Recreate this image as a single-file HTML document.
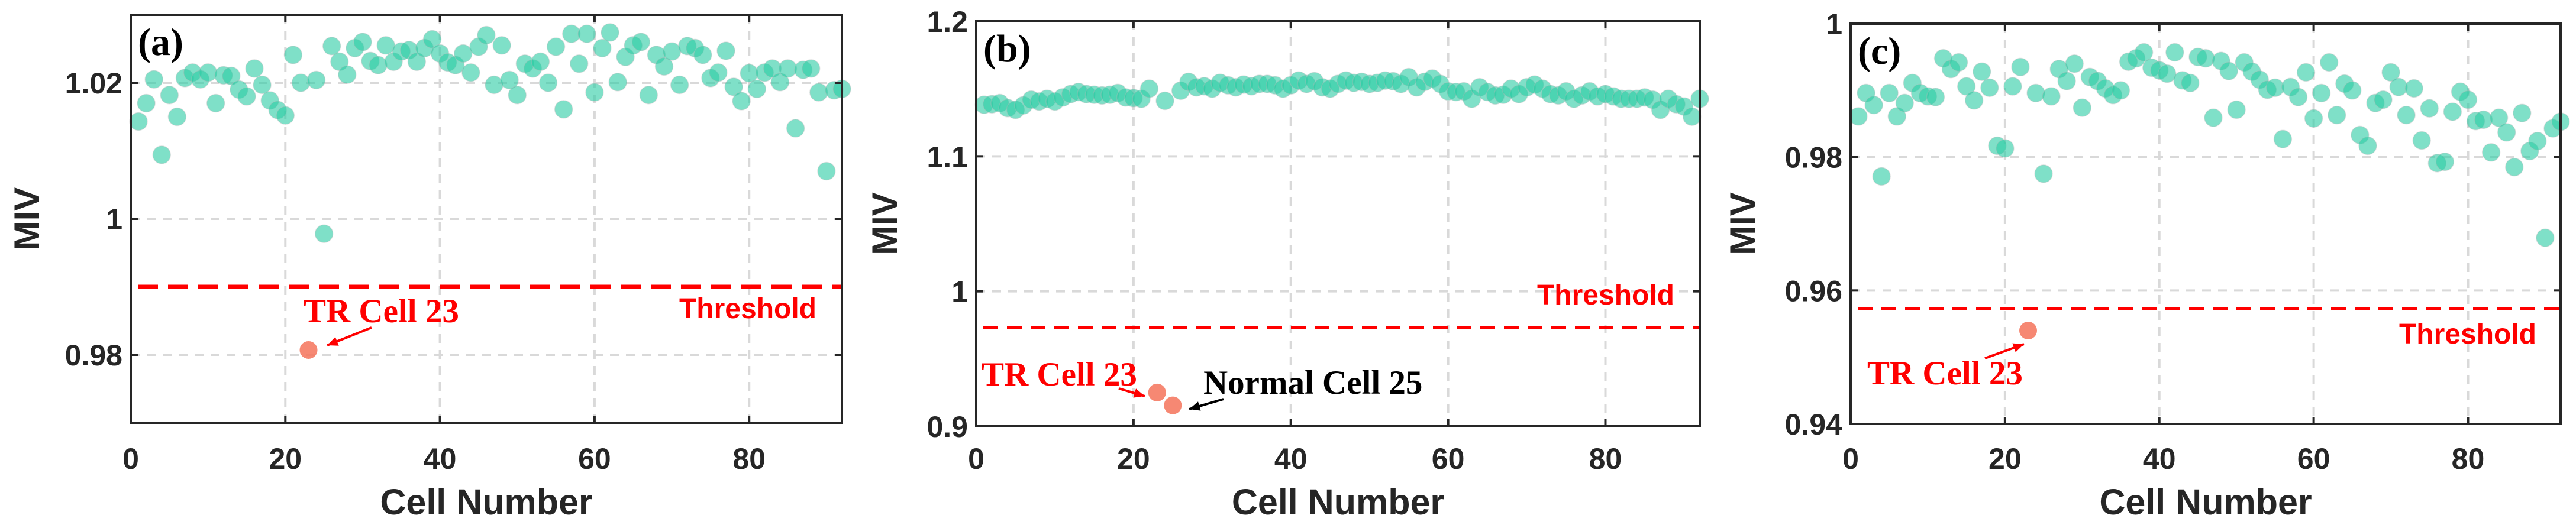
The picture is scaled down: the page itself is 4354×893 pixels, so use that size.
<!DOCTYPE html>
<html><head><meta charset="utf-8"><style>
html,body{margin:0;padding:0;background:#fff;}
svg{display:block;}
</style></head><body>
<svg id="chart" width="4354" height="893" viewBox="0 0 4354 893" xmlns="http://www.w3.org/2000/svg"></svg>
<script>
// ---- data ----
const cellsA = [1,2,3,4,5,6,7,8,9,10,11,12,13,14,15,16,17,18,19,20,21,22,24,25,26,27,28,29,30,31,32,33,34,35,36,37,38,39,40,41,42,43,44,45,46,47,48,49,50,51,52,53,54,55,56,57,58,59,60,61,62,63,64,65,66,67,68,69,70,71,72,73,74,75,76,77,78,79,80,81,82,83,84,85,86,87,88,89,90,91,92];
const mivA = [1.0143,1.017,1.0205,1.0094,1.0182,1.015,1.0207,1.0215,1.0205,1.0215,1.017,1.0211,1.021,1.019,1.018,1.0221,1.0197,1.0174,1.016,1.0152,1.0241,1.02,1.0204,0.9978,1.0254,1.0231,1.0212,1.0251,1.026,1.0232,1.0226,1.0255,1.0231,1.0246,1.0248,1.0231,1.0251,1.0264,1.0243,1.023,1.0226,1.0243,1.0215,1.0253,1.027,1.0197,1.0255,1.0204,1.0182,1.0228,1.0221,1.0231,1.02,1.0253,1.0161,1.0272,1.0228,1.0272,1.0186,1.0251,1.0274,1.0201,1.0238,1.0255,1.026,1.0182,1.0241,1.0224,1.0246,1.0197,1.0254,1.0251,1.0241,1.0207,1.0215,1.0247,1.0194,1.0173,1.0214,1.0191,1.0215,1.0221,1.0201,1.0221,1.0133,1.0219,1.0221,1.0186,1.007,1.0189,1.0191];
const faultCellsA = [23];
const faultMivA = [0.9807];
const thresholdA = 0.99;
const yTicksA = [0.98,1,1.02];
const yTickLabelsA = ["0.98","1","1.02"];

const cellsB = [1,2,3,4,5,6,7,8,9,10,11,12,13,14,15,16,17,18,19,20,21,22,24,26,27,28,29,30,31,32,33,34,35,36,37,38,39,40,41,42,43,44,45,46,47,48,49,50,51,52,53,54,55,56,57,58,59,60,61,62,63,64,65,66,67,68,69,70,71,72,73,74,75,76,77,78,79,80,81,82,83,84,85,86,87,88,89,90,91,92];
const mivB = [1.1382,1.1386,1.1394,1.1357,1.1344,1.1377,1.1419,1.1406,1.1426,1.1406,1.1436,1.1461,1.1476,1.1461,1.1456,1.1451,1.1456,1.1469,1.1436,1.1431,1.1426,1.1501,1.1411,1.1486,1.1551,1.1511,1.1519,1.1501,1.1544,1.1526,1.1511,1.1531,1.1519,1.1536,1.1536,1.1526,1.1501,1.1526,1.1561,1.1536,1.1556,1.1511,1.1501,1.1536,1.1561,1.1544,1.1551,1.1536,1.1544,1.1561,1.1556,1.1536,1.1586,1.1511,1.1551,1.1576,1.1536,1.1481,1.1476,1.1481,1.1426,1.1511,1.1476,1.1451,1.1456,1.1501,1.1461,1.1511,1.1531,1.1501,1.1461,1.1451,1.1481,1.1426,1.1451,1.1481,1.1444,1.1461,1.1444,1.1426,1.1426,1.1426,1.1436,1.1419,1.1344,1.1426,1.1386,1.1369,1.1294,1.1426];
const faultCellsB = [23,25];
const faultMivB = [0.925,0.9155];
const thresholdB = 0.973;
const yTicksB = [0.9,1,1.1,1.2];
const yTickLabelsB = ["0.9","1","1.1","1.2"];

const cellsC = [1,2,3,4,5,6,7,8,9,10,11,12,13,14,15,16,17,18,19,20,21,22,24,25,26,27,28,29,30,31,32,33,34,35,36,37,38,39,40,41,42,43,44,45,46,47,48,49,50,51,52,53,54,55,56,57,58,59,60,61,62,63,64,65,66,67,68,69,70,71,72,73,74,75,76,77,78,79,80,81,82,83,84,85,86,87,88,89,90,91,92];
const mivC = [0.9861,0.9896,0.9878,0.9771,0.9896,0.9861,0.9881,0.9911,0.9896,0.9891,0.989,0.9948,0.9932,0.9942,0.9906,0.9885,0.9928,0.9904,0.9817,0.9813,0.9906,0.9935,0.9896,0.9775,0.9891,0.9932,0.9914,0.994,0.9874,0.992,0.9914,0.9903,0.9893,0.99,0.9943,0.9948,0.9957,0.9934,0.993,0.9925,0.9957,0.9915,0.9911,0.995,0.9948,0.9859,0.9944,0.9929,0.9871,0.9942,0.9928,0.9916,0.9901,0.9904,0.9827,0.9905,0.989,0.9927,0.9858,0.9896,0.9942,0.9863,0.991,0.99,0.9833,0.9817,0.9881,0.9886,0.9927,0.9905,0.9863,0.9903,0.9825,0.9873,0.9791,0.9793,0.9868,0.9898,0.9886,0.9854,0.9856,0.9807,0.9859,0.9837,0.9785,0.9866,0.9809,0.9824,0.9679,0.9843,0.9853];
const faultCellsC = [23];
const faultMivC = [0.954];
const thresholdC = 0.9573;
const yTicksC = [0.94,0.96,0.98,1];
const yTickLabelsC = ["0.94","0.96","0.98","1"];

const xTicks = [0,20,40,60,80];
const xTickLabels = ["0","20","40","60","80"];

// ---- drawing ----
const NS = "http://www.w3.org/2000/svg";
const svg = document.getElementById('chart');
function mk(tag, attrs, parent){
  const e = document.createElementNS(NS, tag);
  for (const k in attrs) e.setAttribute(k, attrs[k]);
  (parent||svg).appendChild(e);
  return e;
}

function panel(cfg){
  const g = mk('g', {});
  
  
  const L=cfg.left, R=cfg.right, T=cfg.top, B=cfg.bottom;
  const xs = v => L + (v - 0) / (92 - 0) * (R - L);
  const ys = v => B - (v - cfg.ymin) / (cfg.ymax - cfg.ymin) * (B - T);

  // grid
  xTicks.forEach((t,i) => {
    if (t === 0) return;
    const l = mk('line', {x1:xs(t), x2:xs(t), y1:T, y2:B, stroke:'#d9d9d9', 'stroke-width':4, 'stroke-dasharray':'15 12'}, g);
    
    
  });
  cfg.yTicks.forEach(t => {
    if (Math.abs(ys(t)-T) < 3 || Math.abs(ys(t)-B) < 3) return;
    const l = mk('line', {x1:L, x2:R, y1:ys(t), y2:ys(t), stroke:'#d9d9d9', 'stroke-width':4, 'stroke-dasharray':'15 12'}, g);
    
    
  });

  // threshold
  const th = mk('line', {x1:L+12, x2:R, y1:ys(cfg.threshold), y2:ys(cfg.threshold), stroke:'#ff0000', 'stroke-width':cfg.thW, 'stroke-dasharray':cfg.thDash}, g);
  
  

  // points
  cfg.cells.forEach((c,i) => {
    const p = mk('circle', {cx:xs(c), cy:ys(cfg.miv[i]), r:15, fill:'#2acba3', 'fill-opacity':0.6, stroke:'#bbbbbb', 'stroke-opacity':0.35, 'stroke-width':1.5}, g);
    
    
  });
  cfg.faultCells.forEach((c,i) => {
    const p = mk('circle', {cx:xs(c), cy:ys(cfg.faultMiv[i]), r:15, fill:'#f5735a', 'fill-opacity':0.85}, g);
    
    
  });

  // box
  const box = mk('rect', {x:L, y:T, width:R-L, height:B-T, fill:'none', stroke:'#262626', 'stroke-width':4}, g);
  
  

  // ticks + labels
  xTicks.forEach((t,i) => {
    mk('line', {x1:xs(t), x2:xs(t), y1:B, y2:B-12, stroke:'#262626', 'stroke-width':4}, g);
    mk('line', {x1:xs(t), x2:xs(t), y1:T, y2:T+12, stroke:'#262626', 'stroke-width':4}, g);
    const tx = mk('text', {x:xs(t), y:793, 'text-anchor':'middle', 'font-family':'Liberation Sans, Arial, sans-serif', 'font-weight':'bold', 'font-size':50, fill:'#262626'}, g);
    tx.textContent = xTickLabels[i];
    
    
  });
  cfg.yTicks.forEach((t,i) => {
    mk('line', {x1:L, x2:L+12, y1:ys(t), y2:ys(t), stroke:'#262626', 'stroke-width':4}, g);
    mk('line', {x1:R, x2:R-12, y1:ys(t), y2:ys(t), stroke:'#262626', 'stroke-width':4}, g);
    const tx = mk('text', {x:L-14, y:ys(t)+18, 'text-anchor':'end', 'font-family':'Liberation Sans, Arial, sans-serif', 'font-weight':'bold', 'font-size':50, fill:'#262626'}, g);
    tx.textContent = cfg.yTickLabels[i];
    
    
  });

  // axis titles
  const xt = mk('text', {x:(L+R)/2, y:870, 'text-anchor':'middle', 'font-family':'Liberation Sans, Arial, sans-serif', 'font-weight':'bold', 'font-size':61, fill:'#262626'}, g);
  xt.textContent = 'Cell Number';
  
  
  const ytx = cfg.yTitleX, yty = (T+B)/2;
  const yt = mk('text', {x:ytx, y:yty, 'text-anchor':'middle', transform:'rotate(-90 '+ytx+' '+yty+')', 'font-family':'Liberation Sans, Arial, sans-serif', 'font-weight':'bold', 'font-size':60, fill:'#262626'}, g);
  yt.textContent = 'MIV';
  
  

  // panel letter
  const pl = mk('text', {x:L+12, y:T+68, 'font-family':'Liberation Serif, Times New Roman, serif', 'font-weight':'bold', 'font-size':66, fill:'#000'}, g);
  pl.textContent = cfg.letter;
  
  

  // threshold text
  const tt = mk('text', {x:cfg.thTextX, y:cfg.thTextY, 'text-anchor':'end', 'font-family':'Liberation Sans, Arial, sans-serif', 'font-weight':'bold', 'font-size':48, fill:'#ff0000'}, g);
  tt.textContent = 'Threshold';
  
  

  // annotations
  cfg.notes.forEach(n => {
    const t = mk('text', {x:n.x, y:n.y, 'font-family':'Liberation Serif, Times New Roman, serif', 'font-weight':'bold', 'font-size':n.fs, fill:n.color}, g);
    t.textContent = n.text;
    
    
    const a = n.arrow;
    const ln = mk('line', {x1:a[0], y1:a[1], x2:a[2], y2:a[3], stroke:n.color, 'stroke-width':4}, g);
    
    
    const ang = Math.atan2(a[3]-a[1], a[2]-a[0]);
    const hl = 18, hw = 8;
    const bx = a[2]-hl*Math.cos(ang), by = a[3]-hl*Math.sin(ang);
    const px = -Math.sin(ang)*hw, py = Math.cos(ang)*hw;
    const hd = mk('polygon', {points:a[2]+','+a[3]+' '+(bx+px)+','+(by+py)+' '+(bx-px)+','+(by-py), fill:n.color}, g);
    
    
  });
}

panel({name:'panel-a', letter:'(a)', left:221, right:1423, top:25, bottom:715, ymin:0.97, ymax:1.03,
  cells:cellsA, miv:mivA, faultCells:faultCellsA, faultMiv:faultMivA, threshold:thresholdA,
  yTicks:yTicksA, yTickLabels:yTickLabelsA, yTitleX:66, thW:7, thDash:'34 17',
  thTextX:1380, thTextY:538,
  notes:[{name:'tr-cell-23-note', text:'TR Cell 23', x:513, y:545, fs:57, color:'#ff0000', arrow:[628,554,553,584]}]});

panel({name:'panel-b', letter:'(b)', left:1650, right:2873, top:36, bottom:721, ymin:0.9, ymax:1.2,
  cells:cellsB, miv:mivB, faultCells:faultCellsB, faultMiv:faultMivB, threshold:thresholdB,
  yTicks:yTicksB, yTickLabels:yTickLabelsB, yTitleX:1516, thW:5, thDash:'25 15',
  thTextX:2830, thTextY:515,
  notes:[{name:'tr-cell-23-note', text:'TR Cell 23', x:1659, y:652, fs:57, color:'#ff0000', arrow:[1891,657,1935,670]},
         {name:'normal-cell-25-note', text:'Normal Cell 25', x:2034, y:666, fs:57, color:'#000000', arrow:[2068,675,2010,692]}]});

panel({name:'panel-c', letter:'(c)', left:3128, right:4328, top:40, bottom:717, ymin:0.94, ymax:1.0,
  cells:cellsC, miv:mivC, faultCells:faultCellsC, faultMiv:faultMivC, threshold:thresholdC,
  yTicks:yTicksC, yTickLabels:yTickLabelsC, yTitleX:2966, thW:5, thDash:'25 15',
  thTextX:4287, thTextY:581,
  notes:[{name:'tr-cell-23-note', text:'TR Cell 23', x:3156, y:650, fs:57, color:'#ff0000', arrow:[3355,606,3421,582]}]});
</script>
</body></html>
